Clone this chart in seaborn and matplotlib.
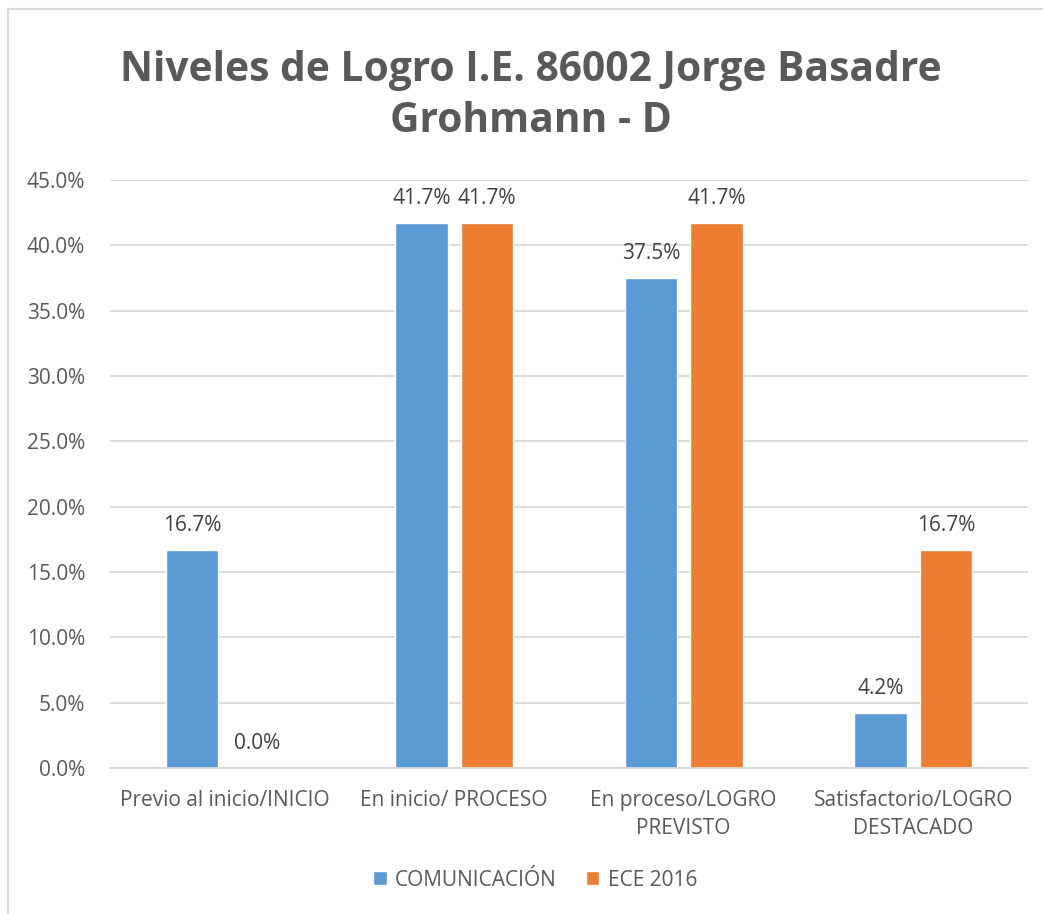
import matplotlib
matplotlib.use("Agg")
import matplotlib.pyplot as plt
import seaborn as sns
import pandas as pd
from matplotlib.patches import Rectangle
from matplotlib.ticker import FuncFormatter

categories = ["Previo al inicio/INICIO", "En inicio/ PROCESO",
              "En proceso/LOGRO\nPREVISTO", "Satisfactorio/LOGRO\nDESTACADO"]
comunicacion = [0.167, 0.417, 0.375, 0.042]
ece2016 = [0.0, 0.417, 0.417, 0.167]
series_names = ["COMUNICACIÓN", "ECE 2016"]
colors = ["#5B9BD5", "#ED7D31"]
title = "Niveles de Logro I.E. 86002 Jorge Basadre\nGrohmann - D"

df = pd.DataFrame({
    "cat": categories * 2,
    "val": comunicacion + ece2016,
    "serie": [series_names[0]] * 4 + [series_names[1]] * 4,
})

sns.set_theme(style="white")
plt.rcParams["font.family"] = ["Open Sans", "DejaVu Sans"]
txt = "#595959"
fs = 15

fig = plt.figure(figsize=(10.43, 9.14), dpi=100)
ax = fig.add_axes([0.1055, 0.1597, 0.88, 0.6433])

sns.barplot(data=df, x="cat", y="val", hue="serie", palette=colors,
            width=0.572, gap=0.2, ax=ax, legend=True, saturation=1)

ax.set_ylim(0, 0.45)
ax.set_yticks([i * 0.05 for i in range(10)])
ax.yaxis.set_major_formatter(FuncFormatter(lambda v, p: f"{v*100:.1f}%"))
ax.grid(axis="y", color="#D9D9D9", linewidth=1.3)
ax.set_axisbelow(True)
for s in ["top", "right", "left"]:
    ax.spines[s].set_visible(False)
ax.spines["bottom"].set_color("#D9D9D9")
ax.spines["bottom"].set_linewidth(1.3)
ax.set_xlabel("")
ax.set_ylabel("")
ax.tick_params(axis="y", labelsize=fs, colors=txt, pad=18, length=0)
ax.tick_params(axis="x", labelsize=fs, colors=txt, pad=16, length=0)
for lbl in ax.get_xticklabels():
    lbl.set_linespacing(1.45)
ax.set_xlim(-0.5, 3.5)

for cont in ax.containers:
    for bar in cont:
        h = bar.get_height()
        ax.annotate(f"{h*100:.1f}%", (bar.get_x() + bar.get_width() / 2, h),
                    xytext=(0, 10), textcoords="offset points",
                    ha="center", va="bottom", fontsize=fs, color="#404040")

leg = ax.legend(loc="center", bbox_to_anchor=(0.513, 0.037),
                bbox_transform=fig.transFigure, ncol=2, frameon=False,
                fontsize=fs, handlelength=0.65, handleheight=0.65,
                columnspacing=1.4, handletextpad=0.4)
for t in leg.get_texts():
    t.set_color(txt)

fig.text(0.509, 0.895, title, ha="center", va="center", fontsize=29.3,
         fontweight="bold", color=txt, linespacing=1.3)

fig.patches.append(Rectangle((8 / 1043, -0.1), 1.2, 1.1 - 9 / 914,
                             transform=fig.transFigure, fill=False,
                             edgecolor="#D9D9D9", linewidth=1.5))

fig.savefig("out.png", dpi=100, facecolor="white")
